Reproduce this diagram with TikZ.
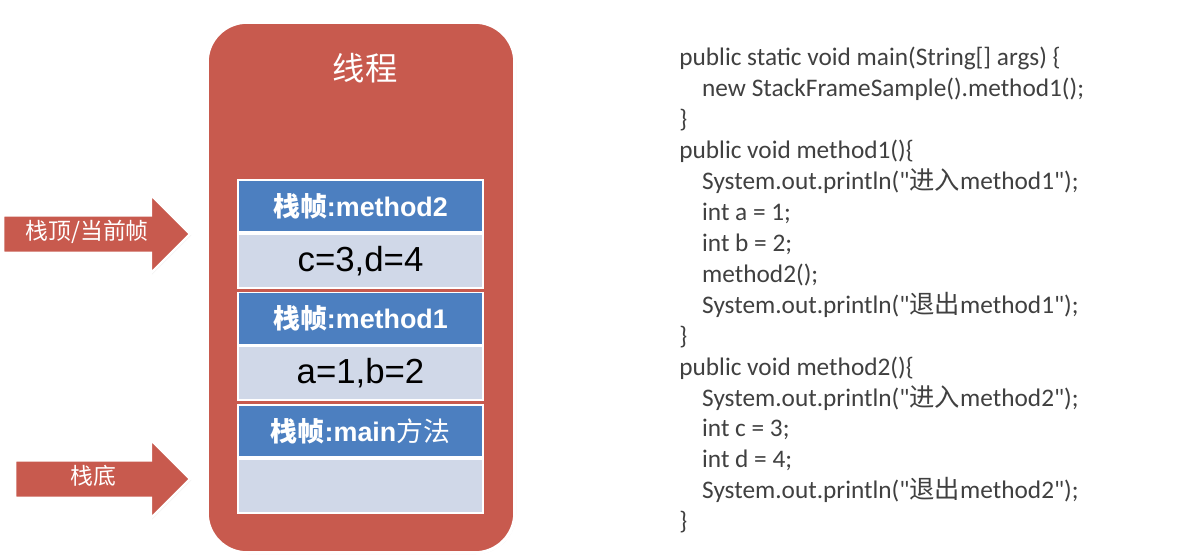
\documentclass[tikz,border=0pt]{standalone}
\usepackage{fontspec}
\setmainfont{Liberation Sans}
\newfontfamily\cjk{Noto Sans CJK SC}
\newfontfamily\codefont{Carlito}
\usetikzlibrary{positioning,shapes.arrows,shadows}
\definecolor{threadred}{RGB}{200,90,78}
\definecolor{framehead}{RGB}{76,127,192}
\definecolor{framebody}{RGB}{208,216,232}
\definecolor{codegray}{RGB}{64,64,64}
\tikzset{
  thread/.style={rectangle,draw=white,line width=2pt,fill=threadred,rounded corners=0.8cm,
    minimum width=6.16cm,minimum height=10.62cm,
    drop shadow={opacity=0.35,shadow xshift=0.6pt,shadow yshift=-0.6pt}},
  fhead/.style={rectangle,draw=white,line width=1pt,fill=framehead,minimum width=4.9cm,
    minimum height=1.04cm,inner sep=0pt,text=white,font=\fontsize{15.3}{18}\selectfont\bfseries},
  fbody/.style={rectangle,draw=white,line width=1pt,fill=framebody,minimum width=4.9cm,
    minimum height=1.08cm,inner sep=0pt,font=\fontsize{19.8}{22}\selectfont},
  pointer/.style={single arrow,draw=white,line width=1.5pt,fill=threadred,text=white,
    single arrow head extend=0.41cm,text height=0.3cm,text depth=0.08cm,inner ysep=0.16cm,
    inner xsep=2pt,font=\cjk\fontsize{13}{15}\selectfont,
    drop shadow={opacity=0.3,shadow xshift=0.6pt,shadow yshift=-0.6pt}},
}

\begin{document}
\begin{tikzpicture}[x=0.02cm,y=-0.02cm]
  \useasboundingbox[fill=white] (0,0) rectangle (1202,558);
  % thread and its stack
  \node[thread] (thread) at (361,287.5) {};
  \node[text=white,font=\cjk\fontsize{18.4}{21}\selectfont] (title) at (365,68) {线程};
  \node[fhead] (h2) at (360.5,206) {{\cjk 栈帧}:method2};
  \node[fbody,below=0pt of h2] (b2) {c=3,d=4};
  \node[fhead,below=0.06cm of b2] (h1) {{\cjk 栈帧}:method1};
  \node[fbody,below=0pt of h1] (b1) {a=1,b=2};
  \node[fhead,below=0.06cm of b1] (h0) {{\cjk 栈帧}:main{\cjk\mdseries 方法}};
  \node[fbody,below=0pt of h0] (b0) {};
  % pointers
  \node[pointer,minimum height=3.74cm,anchor=tip] (top) at (192,234) {栈顶/当前帧};
  \node[pointer,minimum height=3.5cm,anchor=tip] (bottom) at (192,479) {栈底};
  % source code
  \node[anchor=north west,inner sep=0pt,align=left,text=codegray,
    font=\codefont\fontsize{14.4}{17.6}\selectfont] (code) at (679,47) {%
    public static void main(String[] args) \{\\
    \hspace*{13pt}new StackFrameSample().method1();\\
    \}\\
    public void method1()\{\\
    \hspace*{13pt}System.out.println("{\cjk 进入}method1");\\
    \hspace*{13pt}int a = 1;\\
    \hspace*{13pt}int b = 2;\\
    \hspace*{13pt}method2();\\
    \hspace*{13pt}System.out.println("{\cjk 退出}method1");\\
    \}\\
    public void method2()\{\\
    \hspace*{13pt}System.out.println("{\cjk 进入}method2");\\
    \hspace*{13pt}int c = 3;\\
    \hspace*{13pt}int d = 4;\\
    \hspace*{13pt}System.out.println("{\cjk 退出}method2");\\
    \}};
\end{tikzpicture}
\end{document}
